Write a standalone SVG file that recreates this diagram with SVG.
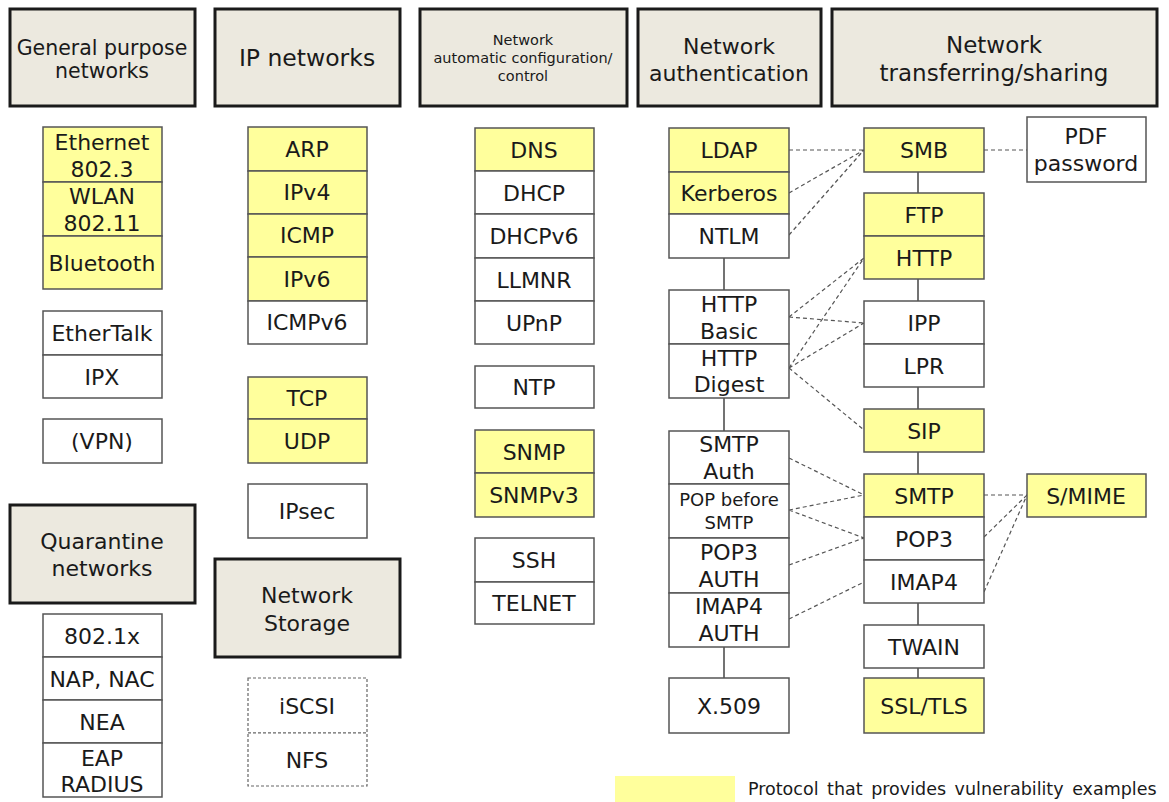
<svg xmlns="http://www.w3.org/2000/svg" width="1169" height="802" viewBox="0 0 1169 802">
<style>
.hdr{fill:#ece9df;stroke:#1a1a1a;stroke-width:3}
.y{fill:#ffff9c;stroke:#555;stroke-width:1.5}
.w{fill:#fff;stroke:#555;stroke-width:1.5}
.wd{fill:#fff;stroke:#666;stroke-width:1.2;stroke-dasharray:3 2}
text{font-family:"DejaVu Sans",Verdana,sans-serif;font-size:22px;fill:#1a1a1a;text-anchor:middle}
.s{font-size:18px}
.hs{font-size:14.5px}
.lg{font-size:17.5px;text-anchor:start;word-spacing:3px}
.dash{stroke:#555;stroke-width:1.2;stroke-dasharray:4 3;fill:none}
.sol{stroke:#444;stroke-width:1.5;fill:none}
</style>
<rect width="1169" height="802" fill="#fff"/>

<g id="connectors">
<line class="sol" x1="724" y1="258" x2="724" y2="290"/>
<line class="sol" x1="724" y1="398" x2="724" y2="431"/>
<line class="sol" x1="724" y1="647" x2="724" y2="678"/>
<line class="sol" x1="918" y1="172" x2="918" y2="193"/>
<line class="sol" x1="918" y1="279" x2="918" y2="301"/>
<line class="sol" x1="918" y1="387" x2="918" y2="409"/>
<line class="sol" x1="918" y1="452" x2="918" y2="474"/>
<line class="sol" x1="918" y1="603" x2="918" y2="625"/>
<line class="sol" x1="918" y1="668" x2="918" y2="678"/>
<path class="dash" d="M789 150L864 150M789 193L864 150M789 235L864 150M984 150L1027 150"/>
<path class="dash" d="M789 317L864 258M789 317L864 323M789 368L864 258M789 368L864 323M789 368L864 430"/>
<path class="dash" d="M789 458L864 495M789 510L864 495M789 510L864 538M789 565L864 538M789 619L864 582"/>
<path class="dash" d="M984 495L1027 495M984 537L1027 495M984 592L1027 495"/>
</g>

<g id="h-general"><rect class="hdr" x="10" y="9" width="185" height="97"/><text x="102" y="55" style="font-size:20.5px">General purpose</text><text x="102" y="78" style="font-size:20.5px">networks</text></g>
<g id="h-ip"><rect class="hdr" x="215" y="9" width="185" height="97"/><text x="307" y="66" style="font-size:23.5px">IP networks</text></g>
<g id="h-config"><rect class="hdr" x="420" y="9" width="207" height="97"/><text class="hs" x="523" y="45">Network</text><text class="hs" x="523" y="63">automatic configuration/</text><text class="hs" x="523" y="81">control</text></g>
<g id="h-auth"><rect class="hdr" x="638" y="9" width="183" height="97"/><text x="729" y="54">Network</text><text x="729" y="81">authentication</text></g>
<g id="h-transfer"><rect class="hdr" x="832" y="9" width="325" height="97"/><text x="994" y="53" style="font-size:23px">Network</text><text x="994" y="81" style="font-size:23px">transferring/sharing</text></g>
<g id="h-quarantine"><rect class="hdr" x="10" y="505" width="185" height="98"/><text x="102" y="549">Quarantine</text><text x="102" y="576">networks</text></g>
<g id="h-storage"><rect class="hdr" x="215" y="559" width="185" height="98"/><text x="307" y="603">Network</text><text x="307" y="631">Storage</text></g>

<g id="ethernet"><rect class="y" x="43" y="127" width="119" height="55"/><text x="102" y="150">Ethernet</text><text x="102" y="177">802.3</text></g>
<g id="wlan"><rect class="y" x="43" y="182" width="119" height="54"/><text x="102" y="204">WLAN</text><text x="102" y="231">802.11</text></g>
<g id="bluetooth"><rect class="y" x="43" y="236" width="119" height="53"/><text x="102" y="271">Bluetooth</text></g>
<g id="ethertalk"><rect class="w" x="43" y="311" width="119" height="44"/><text x="102" y="341">EtherTalk</text></g>
<g id="ipx"><rect class="w" x="43" y="355" width="119" height="43"/><text x="102" y="385">IPX</text></g>
<g id="vpn"><rect class="w" x="43" y="419" width="119" height="44"/><text x="102" y="449">(VPN)</text></g>

<g id="n8021x"><rect class="w" x="43" y="614" width="119" height="43"/><text x="102" y="644">802.1x</text></g>
<g id="napnac"><rect class="w" x="43" y="657" width="119" height="43"/><text x="102" y="687">NAP, NAC</text></g>
<g id="nea"><rect class="w" x="43" y="700" width="119" height="43"/><text x="102" y="730">NEA</text></g>
<g id="eap"><rect class="w" x="43" y="743" width="119" height="54"/><text x="102" y="766">EAP</text><text x="102" y="792">RADIUS</text></g>

<g id="arp"><rect class="y" x="248" y="127" width="119" height="44"/><text x="307" y="157">ARP</text></g>
<g id="ipv4"><rect class="y" x="248" y="171" width="119" height="43"/><text x="307" y="200">IPv4</text></g>
<g id="icmp"><rect class="y" x="248" y="214" width="119" height="43"/><text x="307" y="243">ICMP</text></g>
<g id="ipv6"><rect class="y" x="248" y="257" width="119" height="44"/><text x="307" y="287">IPv6</text></g>
<g id="icmpv6"><rect class="w" x="248" y="301" width="119" height="43"/><text x="307" y="330">ICMPv6</text></g>
<g id="tcp"><rect class="y" x="248" y="377" width="119" height="42"/><text x="307" y="406">TCP</text></g>
<g id="udp"><rect class="y" x="248" y="419" width="119" height="44"/><text x="307" y="449">UDP</text></g>
<g id="ipsec"><rect class="w" x="248" y="484" width="119" height="54"/><text x="307" y="519">IPsec</text></g>
<g id="iscsi"><rect class="wd" x="248" y="678" width="119" height="55"/><text x="307" y="714">iSCSI</text></g>
<g id="nfs"><rect class="wd" x="248" y="733" width="119" height="53"/><text x="307" y="768">NFS</text></g>

<g id="dns"><rect class="y" x="475" y="128" width="119" height="43"/><text x="534" y="158">DNS</text></g>
<g id="dhcp"><rect class="w" x="475" y="171" width="119" height="43"/><text x="534" y="201">DHCP</text></g>
<g id="dhcpv6"><rect class="w" x="475" y="214" width="119" height="44"/><text x="534" y="244">DHCPv6</text></g>
<g id="llmnr"><rect class="w" x="475" y="258" width="119" height="43"/><text x="534" y="288">LLMNR</text></g>
<g id="upnp"><rect class="w" x="475" y="301" width="119" height="43"/><text x="534" y="331">UPnP</text></g>
<g id="ntp"><rect class="w" x="475" y="366" width="119" height="42"/><text x="534" y="395">NTP</text></g>
<g id="snmp"><rect class="y" x="475" y="430" width="119" height="43"/><text x="534" y="460">SNMP</text></g>
<g id="snmpv3"><rect class="y" x="475" y="473" width="119" height="44"/><text x="534" y="503">SNMPv3</text></g>
<g id="ssh"><rect class="w" x="475" y="538" width="119" height="44"/><text x="534" y="568">SSH</text></g>
<g id="telnet"><rect class="w" x="475" y="582" width="119" height="42"/><text x="534" y="611">TELNET</text></g>

<g id="ldap"><rect class="y" x="669" y="128" width="120" height="44"/><text x="729" y="158">LDAP</text></g>
<g id="kerberos"><rect class="y" x="669" y="172" width="120" height="42"/><text x="729" y="201">Kerberos</text></g>
<g id="ntlm"><rect class="w" x="669" y="214" width="120" height="44"/><text x="729" y="244">NTLM</text></g>
<g id="httpbasic"><rect class="w" x="669" y="290" width="120" height="54"/><text x="729" y="312">HTTP</text><text x="729" y="339">Basic</text></g>
<g id="httpdigest"><rect class="w" x="669" y="344" width="120" height="54"/><text x="729" y="366">HTTP</text><text x="729" y="392">Digest</text></g>
<g id="smtpauth"><rect class="w" x="669" y="431" width="120" height="53"/><text x="729" y="452">SMTP</text><text x="729" y="479">Auth</text></g>
<g id="popbefore"><rect class="w" x="669" y="484" width="120" height="54"/><text class="s" x="729" y="506">POP before</text><text class="s" x="729" y="529">SMTP</text></g>
<g id="pop3auth"><rect class="w" x="669" y="538" width="120" height="55"/><text x="729" y="560">POP3</text><text x="729" y="587">AUTH</text></g>
<g id="imap4auth"><rect class="w" x="669" y="593" width="120" height="54"/><text x="729" y="614">IMAP4</text><text x="729" y="641">AUTH</text></g>
<g id="x509"><rect class="w" x="669" y="678" width="120" height="55"/><text x="729" y="714">X.509</text></g>

<g id="smb"><rect class="y" x="864" y="128" width="120" height="44"/><text x="924" y="158">SMB</text></g>
<g id="ftp"><rect class="y" x="864" y="193" width="120" height="43"/><text x="924" y="223">FTP</text></g>
<g id="http"><rect class="y" x="864" y="236" width="120" height="43"/><text x="924" y="266">HTTP</text></g>
<g id="ipp"><rect class="w" x="864" y="301" width="120" height="43"/><text x="924" y="331">IPP</text></g>
<g id="lpr"><rect class="w" x="864" y="344" width="120" height="43"/><text x="924" y="374">LPR</text></g>
<g id="sip"><rect class="y" x="864" y="409" width="120" height="43"/><text x="924" y="439">SIP</text></g>
<g id="smtp"><rect class="y" x="864" y="474" width="120" height="43"/><text x="924" y="504">SMTP</text></g>
<g id="pop3"><rect class="w" x="864" y="517" width="120" height="43"/><text x="924" y="547">POP3</text></g>
<g id="imap4"><rect class="w" x="864" y="560" width="120" height="43"/><text x="924" y="590">IMAP4</text></g>
<g id="twain"><rect class="w" x="864" y="625" width="120" height="43"/><text x="924" y="655">TWAIN</text></g>
<g id="ssltls"><rect class="y" x="864" y="678" width="120" height="55"/><text x="924" y="714">SSL/TLS</text></g>

<g id="pdfpassword"><rect class="w" x="1027" y="117" width="119" height="65"/><text x="1086" y="144">PDF</text><text x="1086" y="171">password</text></g>
<g id="smime"><rect class="y" x="1027" y="474" width="119" height="43"/><text x="1086" y="504">S/MIME</text></g>

<g id="legend"><rect x="615" y="776" width="120" height="26" fill="#ffff9c"/><text class="lg" x="748" y="795">Protocol that provides vulnerability examples</text></g>
</svg>
